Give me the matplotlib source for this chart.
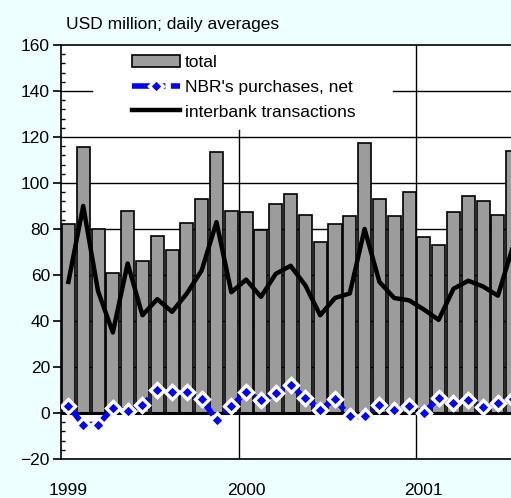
import matplotlib
matplotlib.use("Agg")
import matplotlib.pyplot as plt
import numpy as np

# ---- data (monthly, Jan 1999 onward) ----
total = [82, 115.5, 80, 61, 88, 66, 77, 71, 82.5, 93, 113.5, 88,
         87.5, 79.5, 91, 95, 86, 74.5, 82, 85.5, 117.5, 93, 85.5, 96,
         76.5, 73, 87.5, 94.5, 92, 86, 114]
interbank = [57, 90, 53, 35, 65, 42.5, 49.5, 44, 52, 62, 83, 52.5,
             58, 50.5, 60.5, 64, 55.5, 42.5, 50, 52, 80, 57, 50, 49,
             45, 40.5, 54, 57.5, 55, 51, 72]
nbr = [3, -5, -5, 2, 1, 3.5, 10, 9, 9, 6, -3, 3,
       9, 5.5, 8.5, 12, 6.5, 1.5, 6, -1.5, -1.5, 3.5, 1.5, 3,
       0, 6.5, 4.5, 5.5, 2.5, 4.5, 6]
year_labels = ["1999", "2000", "2001"]
series_labels = ["total", "NBR's purchases, net", "interbank transactions"]

plt.rcParams['font.family'] = ['Liberation Sans', 'DejaVu Sans']
FS = 12.5

W, H = 511, 498
fig = plt.figure(figsize=(W / 100, H / 100), dpi=100)
fig.patch.set_facecolor('#EEFFFF')

x = np.arange(len(total))
months_per_px = 1 / 14.81
AX_W = 450
ax = fig.add_axes([61 / W, 39 / H, AX_W / W, 414 / H])
ax.set_facecolor('white')
ax.set_xlim(-0.5, -0.5 + AX_W * months_per_px)
ax.set_ylim(-20, 160)

# legend box area (white, hides grid lines)
leg_x0, leg_x1 = (92 - 61) / AX_W, (393 - 61) / AX_W
leg_y0 = (459 - 130) / 414

# grid lines
for v in range(20, 160, 20):
    if v == 140:
        ax.axhline(v, xmin=0, xmax=leg_x0, color='black', lw=1.0, zorder=0.5)
        ax.axhline(v, xmin=leg_x1, xmax=1, color='black', lw=1.0, zorder=0.5)
    else:
        ax.axhline(v, color='black', lw=1.0, zorder=0.5)
ax.axvline(11.5, ymin=0, ymax=leg_y0, color='black', lw=1.0, zorder=0.5)
ax.axvline(23.5, color='black', lw=1.0, zorder=0.5)

bars = ax.bar(x, total, width=0.88, color='#9C9C9C', edgecolor='black',
              linewidth=1.2, zorder=2, label=series_labels[0])
ax.axhline(0, color='black', lw=2.2, zorder=2.5)

l2, = ax.plot(x, nbr, color='#0000FF', lw=4.0, linestyle=(0, (4, 1, 1, 1)),
              marker='D', markersize=7, markerfacecolor='#0000FF',
              markeredgecolor='white', markeredgewidth=2.4, zorder=4,
              label=series_labels[1])
l3, = ax.plot(x, interbank, color='black', lw=3.2, zorder=3,
              label=series_labels[2])

# axes styling
ax.spines['right'].set_visible(False)
for s in ('left', 'top', 'bottom'):
    ax.spines[s].set_linewidth(1.2)
ax.set_yticks(range(-20, 161, 20))
ax.set_yticks(range(-20, 161, 4), minor=True)
ax.tick_params(axis='y', which='major', direction='out', length=6, width=1.2,
               labelsize=FS, pad=2)
ax.tick_params(axis='y', which='minor', direction='in', length=3, width=1.0)
ax.set_xticks([0, 12, 24])
ax.set_xticklabels(year_labels)
ax.tick_params(axis='x', which='major', length=0, labelsize=FS, pad=17)

leg = ax.legend(handles=[bars, l2, l3], loc='upper left',
                bbox_to_anchor=((132 - 61) / AX_W, (459 - 55) / 414),
                fontsize=FS, frameon=False,
                handlelength=2.75, handletextpad=0.3, labelspacing=0.55,
                borderpad=0.0, borderaxespad=0.0)
leg.set_zorder(5)

fig.text(66 / W, 1 - 25 / H, "USD million; daily averages", fontsize=FS,
         ha='left', va='center')

fig.savefig("out.png", dpi=100, facecolor=fig.get_facecolor())
